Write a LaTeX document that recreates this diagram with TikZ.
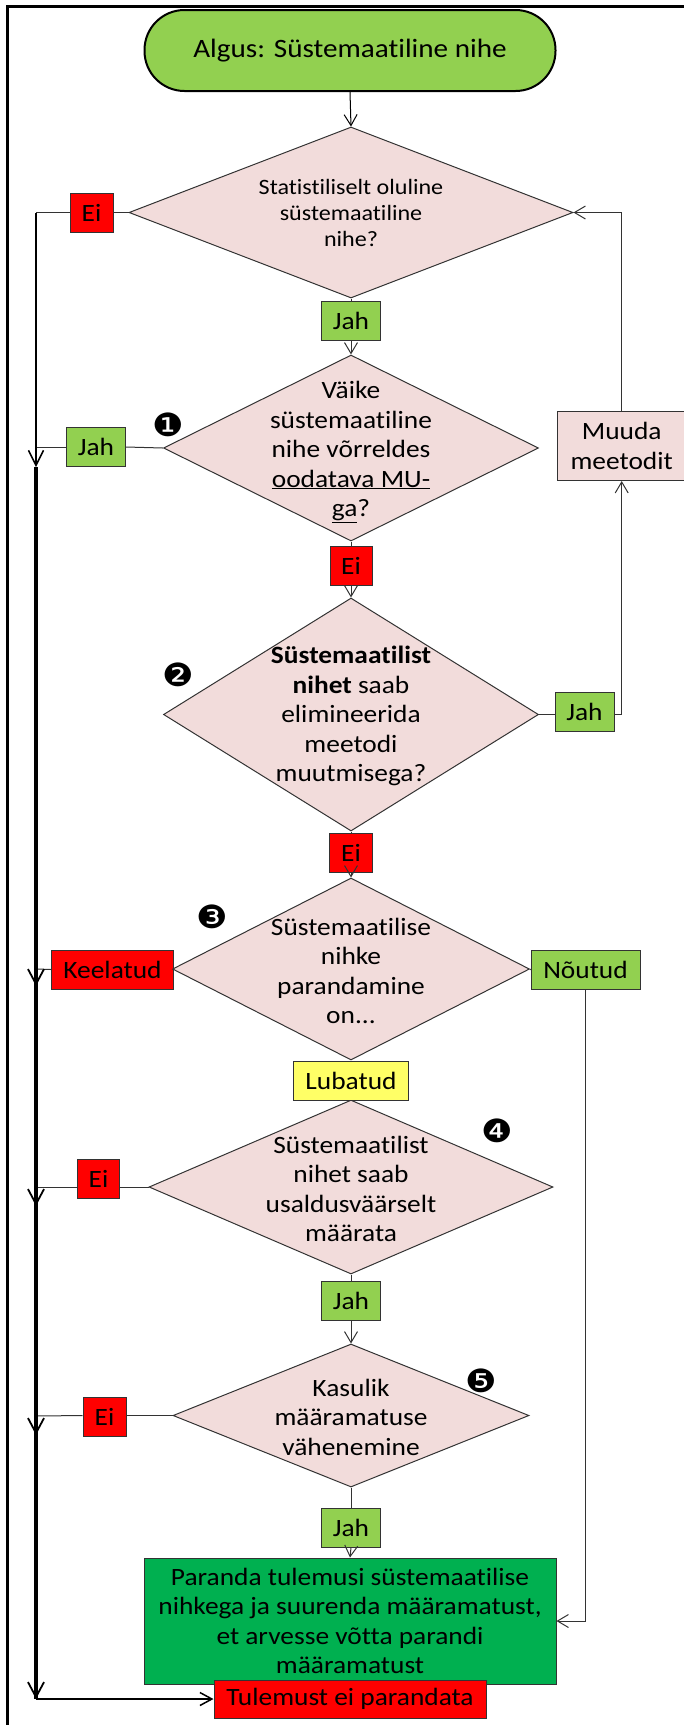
\documentclass[tikz,border=0pt]{standalone}
\usepackage{fontspec}
\setmainfont{Carlito}[FakeStretch=1.1,Ligatures=NoCommon]
\newfontfamily\dingfont{DejaVu Sans}[FakeStretch=1.1]
\usetikzlibrary{shapes.geometric,arrows.meta}
\definecolor{termgreen}{HTML}{92D050}
\definecolor{pinkfill}{HTML}{F2DCDB}
\definecolor{redfill}{HTML}{FF0000}
\definecolor{yelfill}{HTML}{FFFF66}
\definecolor{dkgreen}{HTML}{00B050}
\definecolor{linegray}{HTML}{333333}
\newcommand{\myfont}{\fontsize{24.9}{29.5}\selectfont}
\newcommand{\mysmallfont}{\fontsize{21.9}{26}\selectfont}
\newcommand{\mybigfont}{\fontsize{26.5}{32}\selectfont}
\newcommand{\mynumfont}{\dingfont\fontsize{32}{32}\selectfont}
\begin{document}
\begin{tikzpicture}[x=1pt,y=-1pt,
  dia/.style={diamond, draw=linegray, line width=1pt, fill=pinkfill, inner sep=0pt},
  dtext/.style={align=center, inner sep=0pt, font=\myfont},
  lab/.style={draw=linegray, line width=1pt, inner sep=0pt, minimum height=39pt, font=\myfont},
  conn/.style={draw=linegray, line width=1pt},
  arr/.style={conn, -{Straight Barb[length=11pt,width=13pt]}},
  bus/.style={draw=black, line width=3.6pt},
  busarr/.style={draw=black, line width=1.8pt, -{Straight Barb[length=15pt,width=16pt]}},
  numc/.style={inner sep=0pt, font=\mynumfont}
]
\useasboundingbox (0,0) rectangle (684,1725);
% frame (only top and left edges visible)
\draw[line width=2.5pt, black] (7.5,1730) -- (7.5,6.5) -- (690,6.5);

% start
\node[draw=black, line width=2pt, fill=termgreen, rounded corners=40pt,
      minimum width=411pt, minimum height=81pt, inner sep=0pt, font=\mybigfont]
      (start) at (350,50.5) {Algus: Süstemaatiline nihe};

% diamonds
\node[dia, minimum width=444pt, minimum height=171pt] (d1) at (351,212.5) {};
\node[dtext, font=\mysmallfont] (d1t) at (d1.center) {Statistiliselt oluline\\süstemaatiline\\nihe?};

\node[dia, minimum width=375pt, minimum height=186pt] (d2) at (351,448) {};
\node[dtext] (d2t) at (351,452) {Väike\\süstemaatiline\\nihe võrreldes\\\underline{oodatava MU-}\\\underline{ga}?};

\node[dia, minimum width=375pt, minimum height=233pt] (d3) at (351,714.5) {};
\node[dtext] (d3t) at (351,716) {\textbf{Süstemaatilist}\\\textbf{nihet} saab\\elimineerida\\meetodi\\muutmisega?};

\node[dia, minimum width=357pt, minimum height=182pt] (d4) at (351,969) {};
\node[dtext] (d4t) at (351,971) {Süstemaatilise\\nihke\\parandamine\\on...};

\node[dia, minimum width=404pt, minimum height=174pt] (d5) at (351,1187) {};
\node[dtext] (d5t) at (351,1189) {Süstemaatilist\\nihet saab\\usaldusväärselt\\määrata};

\node[dia, minimum width=356pt, minimum height=143pt] (d6) at (351,1415.5) {};
\node[dtext] (d6t) at (351,1417) {Kasulik\\määramatuse\\vähenemine};

% labels
\node[lab, fill=redfill, minimum width=43pt] (ei1) at (91.5,212.5) {Ei};
\node[lab, fill=termgreen, minimum width=59pt] (jah1) at (351,321) {Jah};
\node[lab, fill=termgreen, minimum width=59pt] (jah2) at (96,447) {Jah};
\node[lab, fill=redfill, minimum width=42pt] (ei2) at (351,565.5) {Ei};
\node[lab, fill=termgreen, minimum width=59pt] (jah3) at (584.5,712) {Jah};
\node[lab, fill=pinkfill, minimum width=129pt, minimum height=69pt, align=center]
      (muuda) at (621.7,446) {Muuda\\meetodit};
\node[lab, fill=redfill, minimum width=43pt] (ei3) at (351,852.5) {Ei};
\node[lab, fill=redfill, minimum width=122pt] (keel) at (112.5,969.5) {Keelatud};
\node[lab, fill=termgreen, minimum width=109pt] (nout) at (585.5,970) {Nõutud};
\node[lab, fill=yelfill, minimum width=115pt] (luba) at (351,1080.5) {Lubatud};
\node[lab, fill=redfill, minimum width=42pt] (ei5) at (98.5,1179) {Ei};
\node[lab, fill=termgreen, minimum width=59pt] (jah5) at (351,1301) {Jah};
\node[lab, fill=redfill, minimum width=43pt] (ei6) at (104.5,1417) {Ei};
\node[lab, fill=termgreen, minimum width=59pt] (jah6) at (351,1527.5) {Jah};
\node[lab, fill=dkgreen, minimum width=412pt, minimum height=126pt, align=center]
      (corr) at (350,1621) {Paranda tulemusi süstemaatilise\\nihkega ja suurenda määramatust,\\et arvesse võtta parandi\\määramatust};
\node[lab, fill=redfill, minimum width=272pt, minimum height=38pt] (nocorr) at (350,1699) {Tulemust ei parandata};

% numbers
\node[numc] (n1) at (168,425) {❶};
\node[numc] (n2) at (178,675) {❷};
\node[numc] (n3) at (212,917) {❸};
\node[numc] (n4) at (497,1131) {❹};
\node[numc] (n5) at (481,1381) {❺};

% bus coordinates
\coordinate (b1) at (36,212.5);
\coordinate (b2) at (36,447);
\coordinate (b2a) at (36,467);
\coordinate (b3) at (36,969);
\coordinate (b3a) at (36,986);
\coordinate (b4) at (36,1187);
\coordinate (b4a) at (36,1206);
\coordinate (b5) at (36,1416);
\coordinate (b5a) at (36,1435);
\coordinate (b6a) at (36,1682);
\coordinate (b6) at (36,1699);

% main flow
\draw[arr, draw=black] (start.south) -- (d1.north);
\draw[conn] (d1.south) -- (jah1.north);
\draw[arr] (jah1.south) -- (d2.north);
\draw[conn] (d2.south) -- (ei2.north);
\draw[arr] (ei2.south) -- (d3.north);
\draw[conn] (d3.south) -- (ei3.north);
\draw[arr] (ei3.south) -- (d4.north);
\draw[conn] (d4.south) -- (luba.north);
\draw[conn] (luba.south) -- (d5.north);
\draw[conn] (d5.south) -- (jah5.north);
\draw[arr] (jah5.south) -- (d6.north);
\draw[conn] (d6.south) -- (jah6.north);
\draw[arr] (jah6.south) -- (corr.north);

% right side loop
\draw[conn] (d3.east) -- (d3.east -| jah3.west);
\draw[arr] (d3.east -| jah3.east) -| (muuda.south);
\draw[arr] (muuda.north) |- (d1.east);
\draw[conn] (d4.east) -- (nout.west);
\draw[arr] (nout.south) |- (corr.east);

% left branches
\draw[conn] (d1.west) -- (ei1.east);
\draw[conn] (ei1.west) -- (b1);
\draw[conn] (d2.west) -- (jah2.east);
\draw[conn] (jah2.west) -- (b2);
\draw[conn] (d4.west) -- (keel.east);
\draw[conn] (keel.west) -- (b3);
\draw[conn] (d5.west) -- (d5.west -| ei5.east);
\draw[conn] (d5.west -| ei5.west) -- (b4);
\draw[conn] (d6.west) -- (d6.west -| ei6.east);
\draw[conn] (d6.west -| ei6.west) -- (b5);

% left bus
\draw[draw=black, line width=1.5pt, -{Straight Barb[length=15pt,width=15pt]}] (b1) -- (b2a);
\draw[bus] (b2a) -- (b6);
\draw[busarr] (b3) -- (b3a);
\draw[busarr] (b4) -- (b4a);
\draw[busarr] (b5) -- (b5a);
\draw[busarr] (b6a) -- (b6);
\draw[draw=black, line width=1.5pt, -{Straight Barb[length=12pt,width=13pt]}] (b6) -- (nocorr.west);
\end{tikzpicture}
\end{document}
